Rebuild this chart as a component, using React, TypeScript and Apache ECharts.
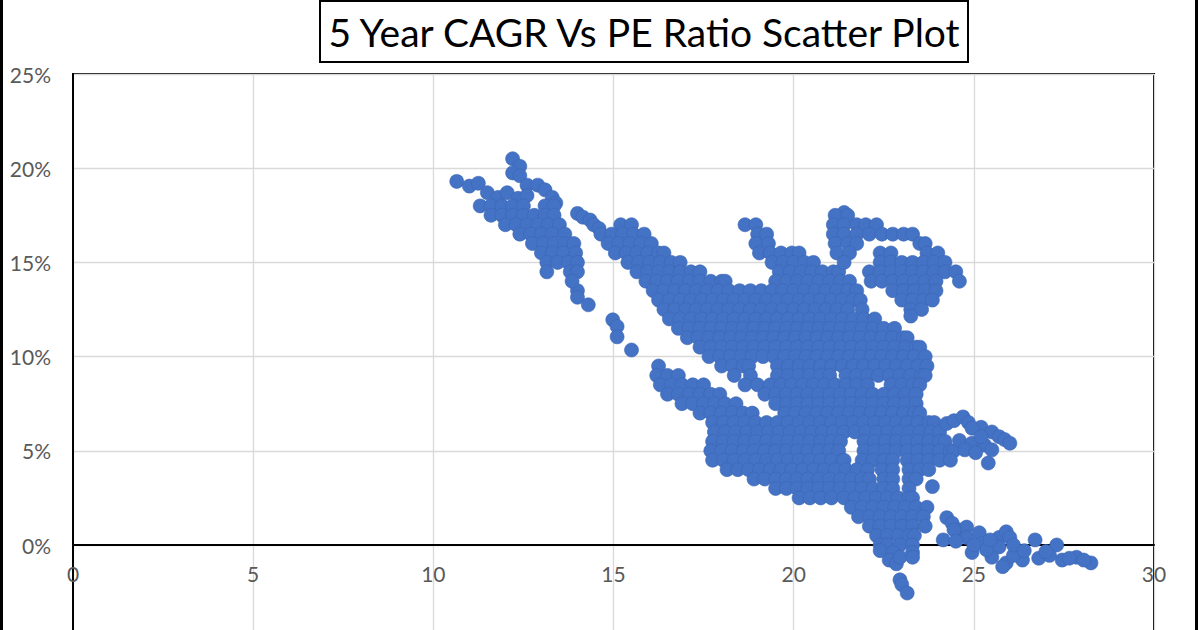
import { useEffect, useRef } from "react";
import * as echarts from "echarts";

// Axis ticks
const xTicks = { min: 0, max: 30, step: 5 };
const yTicks = { min: -5, max: 25, step: 5 };
const titleText = "5 Year CAGR Vs PE Ratio Scatter Plot";

// Rows: [CAGR %, [PE values read along that CAGR level]]
type Row = [number, number[]];

const upperLeftSingles: number[][] = [
  [10.65, 19.3], [11.0, 19.05], [11.25, 19.2], [12.2, 20.5], [12.4, 20.1], [12.2, 19.75], [12.4, 19.6],
  [11.5, 18.7], [11.8, 18.45], [12.05, 18.7], [12.6, 19.1], [12.9, 19.1], [13.1, 18.85], [13.3, 18.45],
  [13.4, 18.15], [12.35, 18.4], [12.6, 18.55], [14.0, 13.5], [14.0, 13.15], [14.3, 12.75],
  [14.0, 17.6], [14.15, 17.4], [14.35, 17.25], [14.45, 17.0], [14.6, 16.8],
];

const upperLeftRows: Row[] = [
  [18.0, [11.3, 11.6, 11.9, 12.2, 12.5, 13.1, 13.35]],
  [17.5, [11.6, 11.9, 12.2, 12.5, 12.8, 13.1, 13.35]],
  [17.0, [12.0, 12.3, 12.6, 12.9, 13.2, 13.5]],
  [16.5, [12.4, 12.7, 13.0, 13.3, 13.65]],
  [16.0, [12.75, 13.05, 13.35, 13.65, 13.9]],
  [15.5, [13.0, 13.3, 13.6, 13.95]],
  [15.0, [13.15, 13.45, 13.75, 14.0]],
  [14.5, [13.15, 13.8, 14.0]],
  [14.0, [13.85]],
];

const stragglers: number[][] = [
  [14.98, 11.95], [15.1, 11.6], [15.1, 11.05], [15.5, 10.35],
  [22.4, -0.3], [22.75, -0.4], [23.3, -0.4], [22.65, -0.8], [22.85, -1.0], [22.95, -1.85],
  [23.0, -2.1], [23.15, -2.55], [22.95, -0.65], [23.3, -0.65], [23.85, 3.1],
];

const mainBlobRows: Row[] = [
  [17.0, [15.2, 15.5, 18.65, 18.95]],
  [16.5, [14.65, 14.95, 15.25, 15.55, 15.85, 19.0, 19.25]],
  [16.0, [14.85, 15.15, 15.45, 15.75, 16.05, 18.95, 19.3]],
  [15.5, [15.05, 15.35, 15.65, 15.95, 16.25, 16.4, 19.05, 19.35, 19.65, 19.95, 20.15]],
  [15.0, [15.4, 15.7, 16.0, 16.3, 16.6, 16.85, 19.4, 19.7, 20.0, 20.3, 20.55]],
  [14.5, [15.65, 15.95, 16.25, 16.55, 16.85, 17.15, 17.4, 19.6, 19.9, 20.2, 20.5, 20.8, 21.1, 21.25]],
  [14.0, [15.9, 16.2, 16.5, 16.8, 17.1, 17.4, 17.7, 18.0, 18.1, 19.5, 19.8, 20.1, 20.4, 20.7, 21.0, 21.3, 21.55]],
  [13.5, [16.1, 16.4, 16.7, 17.0, 17.3, 17.6, 17.9, 18.2, 18.5, 18.8, 19.1, 19.4, 19.7, 20.0, 20.3, 20.6, 20.9, 21.2, 21.5, 21.75]],
  [13.0, [16.25, 16.55, 16.85, 17.15, 17.45, 17.75, 18.05, 18.35, 18.65, 18.95, 19.25, 19.55, 19.85, 20.15, 20.45, 20.75, 21.05, 21.35, 21.65, 21.85]],
  [12.5, [16.4, 16.7, 17.0, 17.3, 17.6, 17.9, 18.2, 18.5, 18.8, 19.1, 19.4, 19.7, 20.0, 20.3, 20.6, 20.9, 21.2, 21.5, 21.9]],
  [12.0, [16.55, 16.85, 17.15, 17.45, 17.75, 18.05, 18.35, 18.65, 18.95, 19.25, 19.55, 19.85, 20.15, 20.45, 20.75, 21.05, 21.35, 21.65, 21.95, 22.25]],
  [11.5, [16.8, 17.1, 17.4, 17.7, 18.0, 18.3, 18.6, 18.9, 19.2, 19.5, 19.8, 20.1, 20.4, 20.7, 21.0, 21.3, 21.6, 21.9, 22.2, 22.5, 22.8]],
  [11.0, [17.05, 17.35, 17.65, 17.95, 18.25, 18.55, 18.85, 19.15, 19.45, 19.75, 20.05, 20.35, 20.65, 20.95, 21.25, 21.55, 21.85, 22.15, 22.45, 22.75, 23.05, 23.15]],
  [10.5, [17.4, 17.7, 18.0, 18.3, 18.6, 18.9, 19.2, 19.5, 19.8, 20.1, 20.4, 20.7, 21.0, 21.3, 21.6, 21.9, 22.2, 22.5, 22.8, 23.1, 23.4, 23.5]],
  [10.0, [17.65, 17.95, 18.25, 18.55, 18.85, 19.15, 19.45, 19.75, 20.05, 20.35, 20.65, 20.95, 21.25, 21.55, 21.85, 22.15, 22.45, 22.75, 23.05, 23.35, 23.65]],
  [9.5, [16.25, 18.0, 18.3, 18.6, 18.75, 19.55, 19.85, 20.15, 20.45, 20.75, 21.05, 21.35, 21.65, 21.95, 22.25, 22.55, 22.85, 23.15, 23.45, 23.7]],
  [9.0, [16.2, 16.5, 16.8, 18.35, 18.8, 19.55, 19.85, 20.15, 20.45, 20.75, 21.0, 21.45, 21.75, 22.05, 22.35, 22.65, 22.95, 23.25, 23.55, 23.65]],
  [8.5, [16.3, 16.6, 16.9, 17.2, 17.5, 18.65, 19.0, 19.35, 19.65, 19.95, 20.25, 20.55, 20.85, 21.15, 21.45, 21.75, 22.05, 22.7, 23.0, 23.3, 23.5]],
  [8.0, [16.5, 16.8, 17.1, 17.4, 17.7, 17.95, 19.2, 19.5, 19.8, 20.1, 20.4, 20.7, 21.0, 21.3, 21.6, 21.9, 22.2, 22.5, 22.8, 23.1, 23.4]],
  [7.5, [16.9, 17.2, 17.5, 17.8, 18.1, 18.4, 19.5, 19.8, 20.1, 20.4, 20.7, 21.0, 21.3, 21.6, 21.9, 22.2, 22.5, 22.8, 23.1, 23.4]],
  [7.0, [17.4, 17.7, 18.0, 18.3, 18.6, 18.85, 19.75, 20.05, 20.35, 20.65, 20.95, 21.25, 21.55, 21.85, 22.15, 22.45, 22.75, 23.05, 23.35, 23.5]],
  [6.5, [17.75, 18.05, 18.35, 18.65, 18.95, 19.25, 19.55, 19.85, 20.15, 20.45, 20.75, 21.05, 21.35, 21.65, 21.95, 22.25, 22.55, 22.85, 23.15, 23.45, 23.75, 23.9]],
  [6.0, [17.8, 18.1, 18.4, 18.7, 19.0, 19.3, 19.6, 19.9, 20.2, 20.5, 20.8, 21.1, 21.4, 21.7, 22.0, 22.3, 22.6, 22.9, 23.2, 23.5, 23.8, 24.05]],
  [5.5, [17.75, 18.05, 18.35, 18.65, 18.95, 19.25, 19.55, 19.85, 20.15, 20.45, 20.75, 21.05, 21.3, 21.95, 22.25, 22.55, 22.85, 23.15, 23.45, 23.75, 24.05, 24.2]],
  [5.0, [17.7, 18.0, 18.3, 18.6, 18.9, 19.2, 19.5, 19.8, 20.1, 20.4, 20.7, 21.0, 21.25, 21.95, 22.25, 22.55, 22.85, 23.15, 23.45, 23.75, 24.05, 24.35, 24.45]],
  [4.5, [17.75, 18.05, 18.35, 18.65, 18.95, 19.25, 19.55, 19.85, 20.15, 20.45, 20.75, 21.05, 21.35, 21.4, 21.9, 22.2, 22.5, 22.75, 23.15, 23.45, 23.75, 24.05, 24.35]],
  [4.0, [18.15, 18.45, 18.75, 19.05, 19.35, 19.65, 19.95, 20.25, 20.55, 20.85, 21.15, 21.45, 21.75, 22.05, 22.45, 22.75, 23.2, 23.5, 23.75]],
  [3.5, [18.9, 19.2, 19.5, 19.8, 20.1, 20.4, 20.7, 21.0, 21.3, 21.6, 21.9, 22.1, 22.5, 22.75, 23.2, 23.4]],
  [3.0, [19.5, 19.8, 20.1, 20.4, 20.7, 21.0, 21.3, 21.6, 21.9, 22.2, 22.5, 22.75, 23.2]],
  [2.5, [20.15, 20.45, 20.75, 21.05, 21.4, 21.7, 22.0, 22.3, 22.6, 22.9, 23.2, 23.3]],
  [2.0, [21.6, 21.9, 22.2, 22.5, 22.8, 23.1, 23.4, 23.7]],
  [1.5, [21.8, 22.1, 22.4, 22.7, 23.0, 23.3, 23.6]],
  [1.0, [22.1, 22.4, 22.7, 23.0, 23.3, 23.65]],
  [0.5, [22.3, 22.6, 22.9, 23.2, 23.35]],
  [0.0, [22.4, 22.6, 22.95, 23.3]],
];

const upperRightRows: Row[] = [
  [17.65, [21.4]],
  [17.5, [21.15, 21.5]],
  [17.0, [21.1, 21.4, 21.75, 22.0, 22.3]],
  [16.5, [21.1, 21.4, 21.75, 22.1, 22.45, 22.75, 23.05, 23.3]],
  [16.0, [21.15, 21.5, 21.75, 23.5, 23.65]],
  [15.5, [21.2, 21.55, 22.4, 22.7, 23.7, 24.0]],
  [15.0, [21.4, 22.4, 22.7, 23.0, 23.3, 23.6, 23.9, 24.2]],
  [14.5, [22.1, 22.4, 22.7, 23.0, 23.3, 23.6, 23.9, 24.2, 24.5]],
  [14.0, [22.15, 22.45, 22.75, 23.05, 23.35, 23.65, 23.95, 24.6]],
  [13.5, [22.75, 23.05, 23.35, 23.65, 23.95]],
  [13.0, [23.0, 23.3, 23.6, 23.85]],
  [12.5, [23.25, 23.55]],
  [12.15, [23.25]],
];

const rightArm: number[][] = [
  [24.25, 6.45], [24.45, 6.6], [24.7, 6.8], [24.85, 6.5], [25.2, 6.25], [25.5, 6.0], [25.7, 5.75],
  [25.85, 5.6], [26.0, 5.4], [24.6, 5.55], [24.95, 5.4], [25.3, 5.3], [25.5, 5.05], [24.75, 5.05],
  [25.05, 4.9], [25.4, 4.35], [24.95, 6.2], [25.2, 5.75],
];

const lowerTail: number[][] = [
  [24.15, 0.27], [24.25, 1.45], [24.4, 1.15], [24.6, 0.8], [24.8, 0.95], [24.8, 0.4], [25.15, 0.65],
  [25.25, 0.1], [25.7, 0.4], [25.7, -0.1], [25.9, 0.7], [26.0, 0.4], [25.5, -0.65], [24.95, -0.4],
  [25.35, -0.25], [25.9, -0.95], [25.8, -1.15], [26.35, -0.8], [26.7, 0.27], [26.8, -0.7], [27.3, 0.0],
  [27.45, -0.8], [27.85, -0.65], [28.25, -0.95], [26.1, -0.55], [27.1, -0.55], [27.65, -0.7],
  [28.05, -0.8], [24.45, 0.8], [25.45, 0.27], [26.1, 0.0], [24.5, 0.2], [25.0, 0.0], [26.4, -0.3],
  [27.0, -0.35],
];

const rowsToPoints = (rows: Row[]) => rows.flatMap(([c, pes]) => pes.map((pe) => [pe, c]));

// Layout (pixels)
const gridTop = 74;
const gridBottomY = 639.2; // where the -5% level falls, below the visible page
const zeroY = 545;

export default function App() {
  const ref = useRef<HTMLDivElement>(null);

  useEffect(() => {
    if (!ref.current) return;
    const chart = echarts.init(ref.current, null, { renderer: "svg" });
    const points = [
      ...upperLeftSingles,
      ...rowsToPoints(upperLeftRows),
      ...rowsToPoints(mainBlobRows),
      ...rowsToPoints(upperRightRows),
      ...rightArm,
      ...lowerTail,
      ...stragglers,
    ];
    const labelStyle = { color: "#595959", fontSize: 21, fontFamily: "Lato" };
    chart.setOption({
      animation: false,
      backgroundColor: "#ffffff",
      grid: {
        left: 73,
        right: 46,
        top: gridTop,
        bottom: 680 - gridBottomY,
        show: true,
        borderColor: "#000000",
        borderWidth: 2,
        backgroundColor: "transparent",
      },
      xAxis: {
        type: "value",
        position: "bottom",
        offset: -(gridBottomY - zeroY),
        min: xTicks.min,
        max: xTicks.max,
        interval: xTicks.step,
        axisLine: { onZero: false, lineStyle: { color: "#000000", width: 2 } },
        axisTick: { show: false },
        axisLabel: { ...labelStyle, margin: 18 },
        splitLine: { lineStyle: { color: "#d9d9d9", width: 1.3 } },
      },
      yAxis: {
        type: "value",
        min: yTicks.min,
        max: yTicks.max,
        interval: yTicks.step,
        axisLine: { show: true, lineStyle: { color: "#000000", width: 2 } },
        axisTick: { show: false },
        axisLabel: { ...labelStyle, margin: 22, formatter: "{value}%" },
        splitLine: { lineStyle: { color: "#d9d9d9", width: 1.3 } },
      },
      graphic: [
        { type: "rect", shape: { x: 0, y: 0, width: 3, height: 680 }, style: { fill: "#000" }, z: 100 },
        { type: "rect", shape: { x: 1195, y: 0, width: 3, height: 680 }, style: { fill: "#000" }, z: 100 },
        {
          type: "rect",
          shape: { x: 320, y: 1, width: 648, height: 61 },
          style: { fill: "#ffffff", stroke: "#000000", lineWidth: 2 },
          z: 100,
        },
        {
          type: "text",
          x: 644,
          y: 32,
          style: {
            text: titleText,
            fill: "#000000",
            font: "39px Lato",
            textAlign: "center",
            textVerticalAlign: "middle",
          },
          z: 101,
        },
      ],
      series: [
        {
          type: "scatter",
          data: points,
          symbol: "circle",
          symbolSize: 14,
          itemStyle: { color: "#4472C4", borderColor: "#3d66b3", borderWidth: 0.6, opacity: 1 },
        },
      ],
    });
    return () => chart.dispose();
  }, []);

  return (
    <div
      ref={ref}
      style={{ position: "fixed", left: 0, top: 0, width: 1200, height: 680, background: "#fff" }}
    />
  );
}
